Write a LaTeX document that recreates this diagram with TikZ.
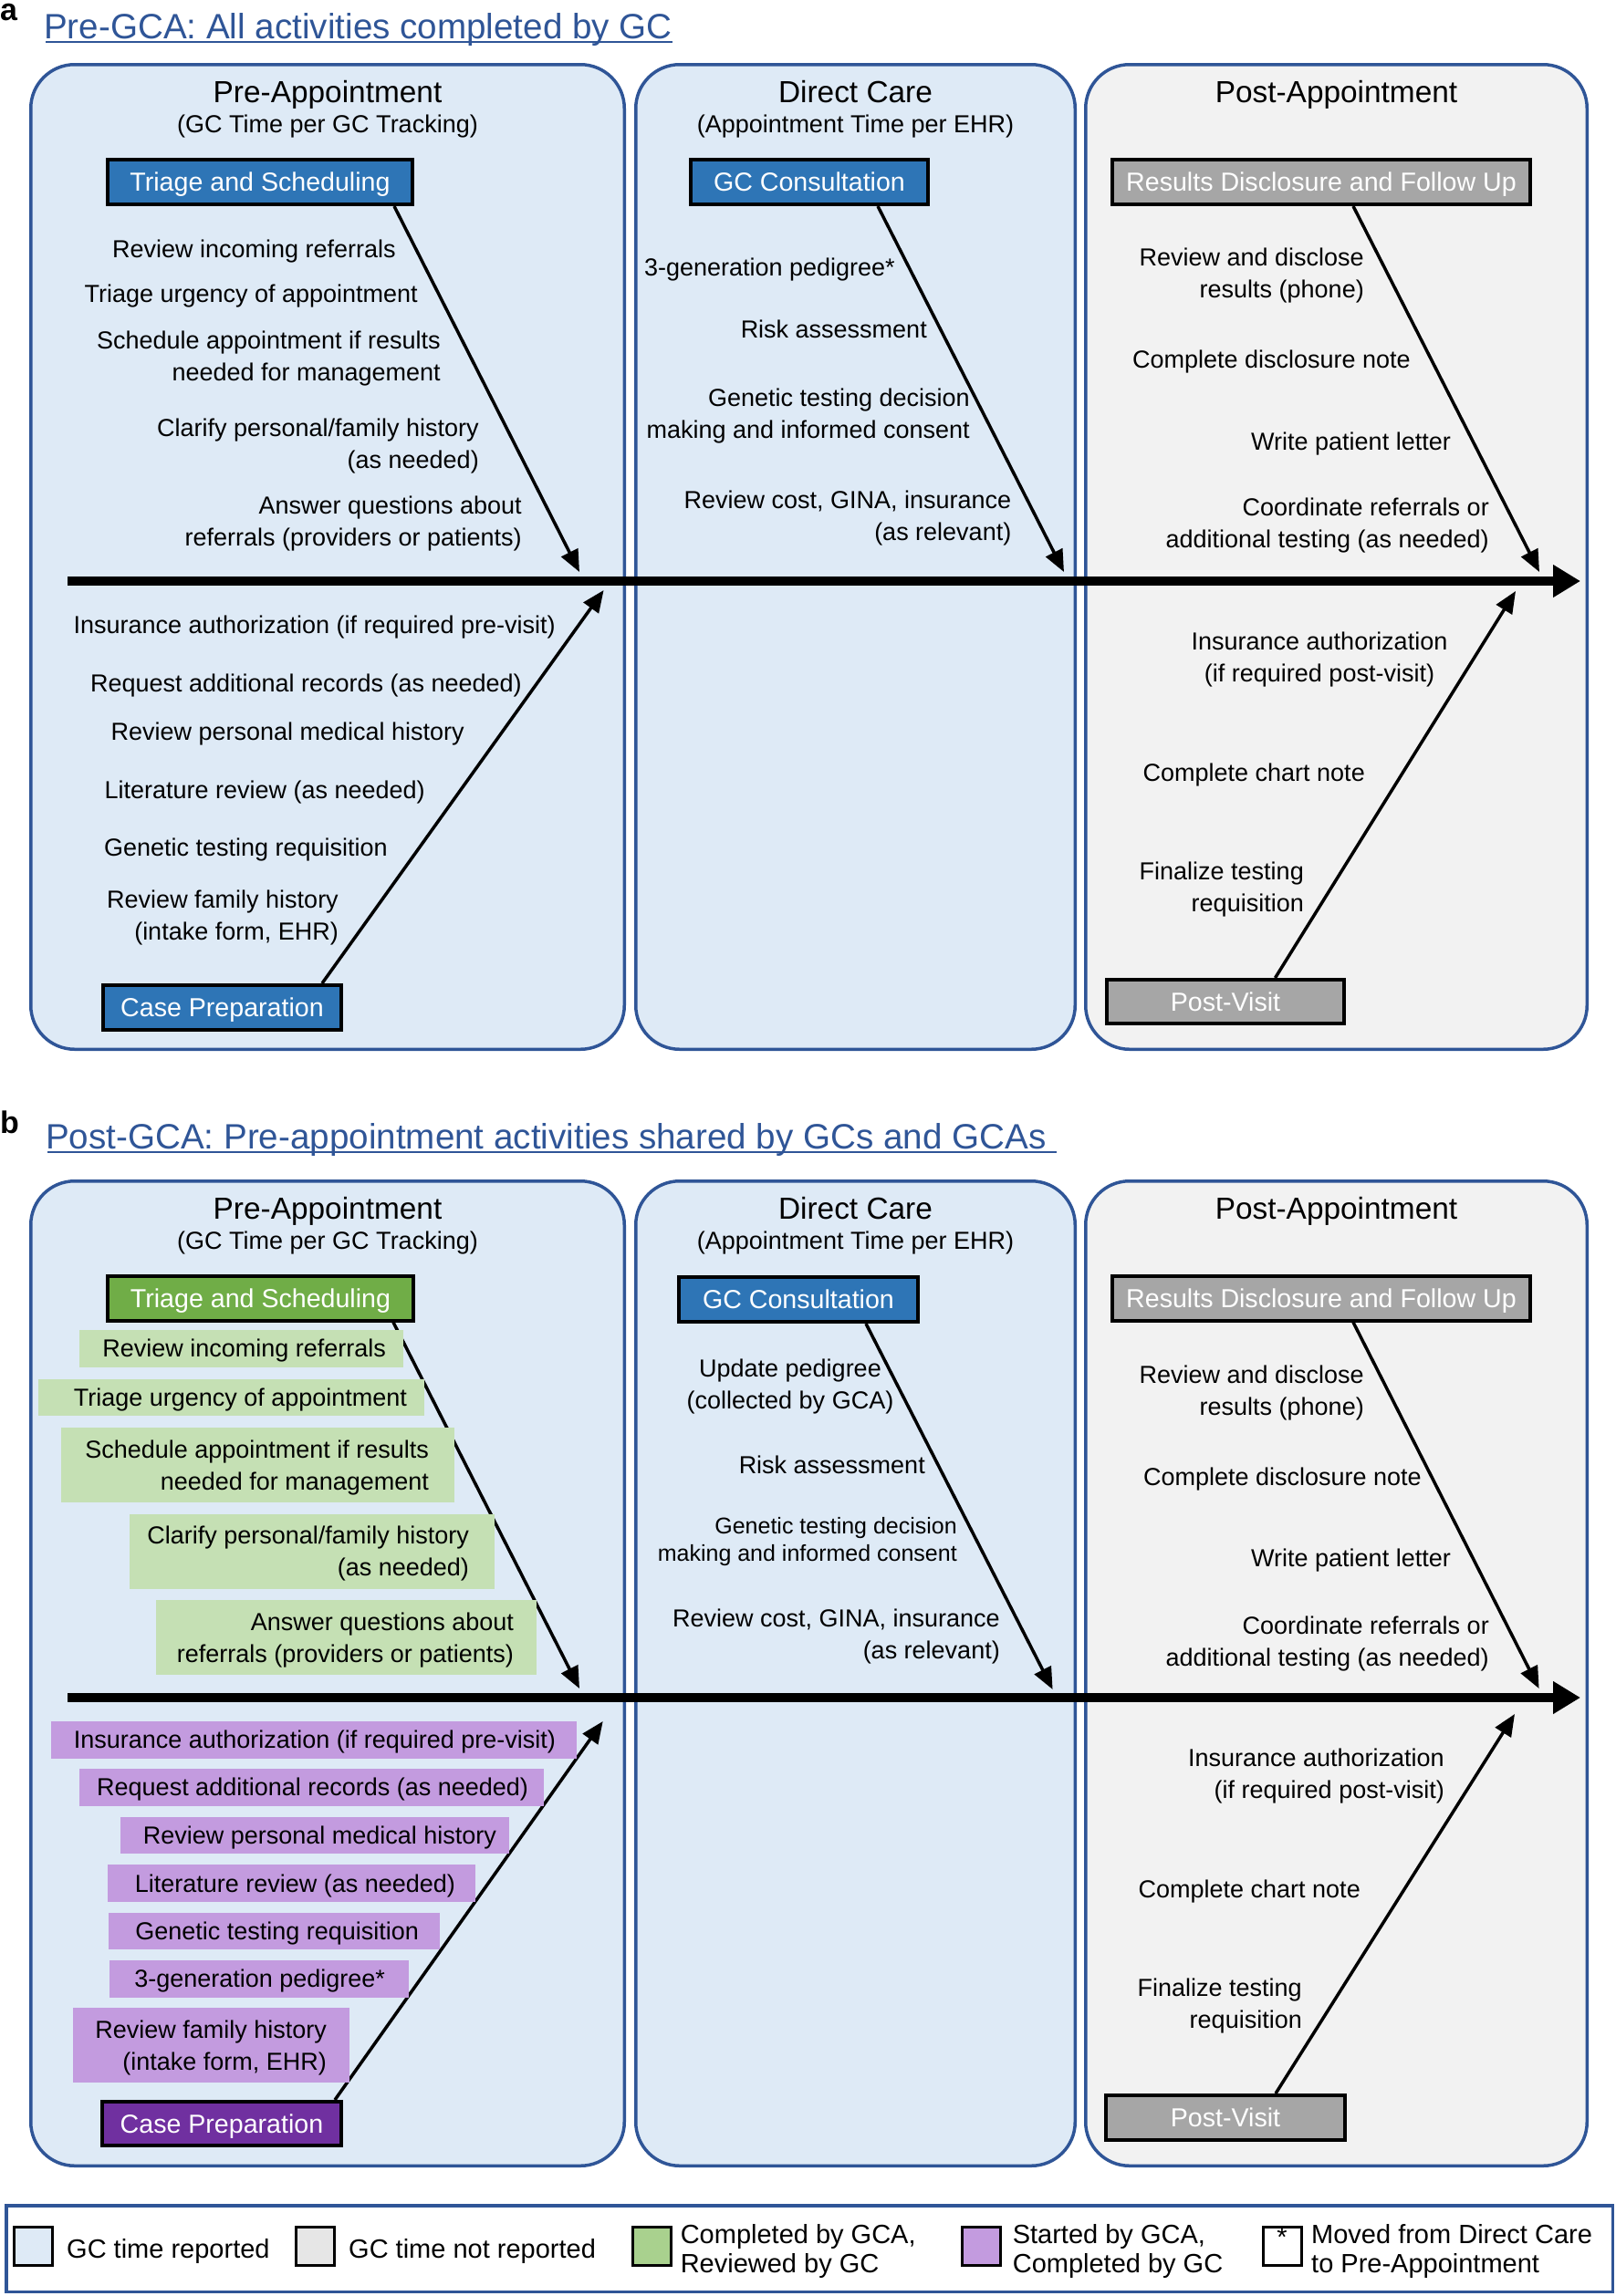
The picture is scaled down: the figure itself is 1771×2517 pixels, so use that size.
\documentclass[tikz,border=0pt]{standalone}
\usepackage{fontspec}
\setmainfont{Liberation Sans}
\usetikzlibrary{arrows.meta,calc}
\definecolor{pblue}{HTML}{DEEAF6}
\definecolor{pgray}{HTML}{F2F2F2}
\definecolor{pborder}{HTML}{2F5597}
\definecolor{tblue}{HTML}{2F5597}
\definecolor{catblue}{HTML}{2E75B6}
\definecolor{catgray}{HTML}{A6A6A6}
\definecolor{catgreen}{HTML}{70AD47}
\definecolor{catpurple}{HTML}{7030A0}
\definecolor{gitem}{HTML}{C5E0B4}
\definecolor{pitem}{HTML}{C39BDF}
\definecolor{lgreen}{HTML}{A9D18E}
\definecolor{lgray}{HTML}{E6E6E6}
\begin{document}
\begin{tikzpicture}[x=1pt,y=-1pt,
  panel/.style={draw=pborder, line width=3.5pt, rounded corners=48pt, inner sep=0pt},
  cat/.style={draw=black, line width=4pt, inner sep=0pt, minimum height=49pt, text=white, text height=20.5pt, text depth=0pt, font=\fontsize{28.6}{34}\selectfont},
  txt/.style={inner sep=0pt, align=right, yshift=-2.5pt, font=\fontsize{27}{35}\selectfont},
  hdr/.style={inner sep=0pt, anchor=base, font=\fontsize{33.4}{40}\selectfont},
  subhdr/.style={inner sep=0pt, anchor=base, font=\fontsize{27}{35}\selectfont},
  conn/.style={line width=3.5pt, -{Triangle[length=24pt,width=20pt]}},
  axis/.style={line width=10pt, -{Triangle[length=30pt,width=34pt]}},
  itembox/.style={inner sep=0pt, draw=none},
  lgd/.style={inner sep=0pt, align=left, anchor=west, font=\fontsize{29}{32}\selectfont},
  swatch/.style={draw=black, line width=3pt, minimum width=42pt, minimum height=42pt, inner sep=0pt},
  ttl/.style={inner sep=0pt, anchor=base west, text=tblue, font=\fontsize{38.6}{45}\selectfont},
  lbl/.style={inner sep=0pt, anchor=base west, font=\bfseries\fontsize{34}{40}\selectfont},
  ul/.style={draw=tblue, line width=2pt}
]
\path[fill=white] (0,0) rectangle (1771,2517);
\useasboundingbox (0,0) rectangle (1771,2517);

% ================= PANEL A =================
\node[lbl] (la) at (0,22) {a};
\node[ttl] (ta) at (48,42.5) {Pre-GCA: All activities completed by GC};
\draw[ul] ([xshift=2pt,yshift=-3pt]ta.base west) -- ([yshift=-3pt]ta.base east);

\node[panel, fill=pblue, minimum width=650.5pt, minimum height=1079.5pt] (A1) at (359,610.5) {};
\node[panel, fill=pblue, minimum width=481.5pt, minimum height=1079.5pt] (A2) at (937.5,610.5) {};
\node[panel, fill=pgray, minimum width=549.5pt, minimum height=1079.5pt] (A3) at (1464.5,610.5) {};

\node[hdr] (ha1) at (359,112.5) {Pre-Appointment};
\node[subhdr] (sa1) at (359,145) {(GC Time per GC Tracking)};
\node[hdr] (ha2) at (937.5,112.5) {Direct Care};
\node[subhdr] (sa2) at (937.5,145) {(Appointment Time per EHR)};
\node[hdr] (ha3) at (1464.5,112.5) {Post-Appointment};

\node[cat, fill=catblue, minimum width=334pt] (tri) at (285,199.5) {Triage and Scheduling};
\node[cat, fill=catblue, minimum width=260pt] (gcc) at (887,199.5) {GC Consultation};
\node[cat, fill=catgray, minimum width=458pt] (res) at (1448,199.5) {Results Disclosure and Follow Up};
\node[cat, fill=catblue, minimum width=261pt] (cp) at (243.5,1104.5) {Case Preparation};
\node[cat, fill=catgray, minimum width=260pt, minimum height=48pt] (pv) at (1343,1098) {Post-Visit};

\coordinate (a0) at (74,637);
\coordinate (a1) at (1732,637);
\draw[axis] (a0) -- (a1);

\coordinate (e1) at (635,627);
\coordinate (e2) at (1166,627);
\coordinate (e3) at (1687,627);
\coordinate (e4) at (661.6,647);
\coordinate (e5) at (1661,648);
\draw[conn] ([xshift=-22pt]tri.south east) -- (e1);
\draw[conn] ([xshift=-57pt]gcc.south east) -- (e2);
\draw[conn] ([xshift=-196pt]res.south east) -- (e3);
\draw[conn] ([xshift=-23pt]cp.north east) -- (e4);
\draw[conn] ([xshift=-77.5pt]pv.north east) -- (e5);

% texts box 1 (a)
\node[txt, anchor=east] (t1) at (434,273) {Review incoming referrals};
\node[txt, anchor=east] (t2) at (458,322) {Triage urgency of appointment};
\node[txt, anchor=east] (t3) at (483,390.5) {Schedule appointment if results\\needed for management};
\node[txt, anchor=east] (t4) at (525,486.5) {Clarify personal/family history\\(as needed)};
\node[txt, anchor=east] (t5) at (572,571.5) {Answer questions about\\referrals (providers or patients)};
\node[txt, anchor=east] (b1) at (609,685.5) {Insurance authorization (if required pre-visit)};
\node[txt, anchor=east] (b2) at (572,749) {Request additional records (as needed)};
\node[txt, anchor=east] (b3) at (509,802) {Review personal medical history};
\node[txt, anchor=east] (b4) at (466,866) {Literature review (as needed)};
\node[txt, anchor=east] (b5) at (425,929) {Genetic testing requisition};
\node[txt, anchor=east] (b6) at (371,1003.5) {Review family history\\(intake form, EHR)};

% texts box 2 (a)
\node[txt, anchor=east] (d1) at (981,293.5) {3-generation pedigree*};
\node[txt, anchor=east] (d2) at (1016,358) {Risk assessment};
\node[txt, anchor=east] (d3) at (1063,453.5) {Genetic testing decision\\making and informed consent};
\node[txt, anchor=east] (d4) at (1108.5,566) {Review cost, GINA, insurance\\(as relevant)};

% texts box 3 (a)
\node[txt, anchor=east] (r1) at (1495,300) {Review and disclose\\results (phone)};
\node[txt, anchor=east] (r2) at (1546,394) {Complete disclosure note};
\node[txt, anchor=east] (r3) at (1590,484) {Write patient letter};
\node[txt, anchor=east] (r4) at (1632,573.5) {Coordinate referrals or\\additional testing (as needed)};
\node[txt, align=center] (r5) at (1446,720.5) {Insurance authorization\\(if required post-visit)};
\node[txt, anchor=east] (r6) at (1496,847) {Complete chart note};
\node[txt, anchor=east] (r7) at (1429,973) {Finalize testing\\requisition};

% ================= PANEL B =================
\node[lbl] (lb) at (0,1242) {b};
\node[ttl] (tb) at (50,1259.5) {Post-GCA: Pre-appointment activities shared by GCs and GCAs};
\draw[ul] ([xshift=2pt,yshift=-3pt]tb.base west) -- ([xshift=11pt,yshift=-3pt]tb.base east);

\node[panel, fill=pblue, minimum width=650.5pt, minimum height=1079.5pt] (B1) at (359,1834.5) {};
\node[panel, fill=pblue, minimum width=481.5pt, minimum height=1079.5pt] (B2) at (937.5,1834.5) {};
\node[panel, fill=pgray, minimum width=549.5pt, minimum height=1079.5pt] (B3) at (1464.5,1834.5) {};

\node[hdr] (hb1) at (359,1336.5) {Pre-Appointment};
\node[subhdr] (sb1) at (359,1369) {(GC Time per GC Tracking)};
\node[hdr] (hb2) at (937.5,1336.5) {Direct Care};
\node[subhdr] (sb2) at (937.5,1369) {(Appointment Time per EHR)};
\node[hdr] (hb3) at (1464.5,1336.5) {Post-Appointment};

\node[cat, fill=catgreen, minimum width=335pt] (trib) at (285.5,1423) {Triage and Scheduling};
\node[cat, fill=catblue, minimum width=262pt] (gccb) at (875,1424.5) {GC Consultation};
\node[cat, fill=catgray, minimum width=458pt] (resb) at (1448,1423) {Results Disclosure and Follow Up};
\node[cat, fill=catpurple, minimum width=262pt, minimum height=48pt] (cpb) at (243,2328) {Case Preparation};
\node[cat, fill=catgray, minimum width=262pt] (pvb) at (1343,2321.5) {Post-Visit};

\coordinate (b0) at (74,1861);
\coordinate (b9) at (1732,1861);
\draw[axis] (b0) -- (b9);

\coordinate (f1) at (635,1851);
\coordinate (f2) at (1153.6,1852);
\coordinate (f3) at (1686.6,1851);
\coordinate (f4) at (660.7,1887);
\coordinate (f5) at (1660,1879);
\draw[conn] ([xshift=-24pt]trib.south east) -- (f1);
\draw[conn] ([xshift=-59pt]gccb.south east) -- (f2);
\draw[conn] ([xshift=-196pt]resb.south east) -- (f3);
\draw[conn] ([xshift=-9pt]cpb.north east) -- (f4);
\draw[conn] ([xshift=-78pt]pvb.north east) -- (f5);

% green items
\node[itembox, fill=gitem, minimum width=355pt, minimum height=40.5pt] (g1) at (264.5,1478.25) {};
\node[txt, anchor=east] (g1t) at ([xshift=-19pt]g1.east) {Review incoming referrals};
\node[itembox, fill=gitem, minimum width=423pt, minimum height=40pt] (g2) at (253.5,1532) {};
\node[txt, anchor=east] (g2t) at ([xshift=-19pt]g2.east) {Triage urgency of appointment};
\node[itembox, fill=gitem, minimum width=431pt, minimum height=82pt] (g3) at (282.5,1606) {};
\node[txt, anchor=east] (g3t) at ([xshift=-28pt]g3.east) {Schedule appointment if results\\needed for management};
\node[itembox, fill=gitem, minimum width=400.5pt, minimum height=81.5pt] (g4) at (341.75,1700.75) {};
\node[txt, anchor=east] (g4t) at ([xshift=-28pt]g4.east) {Clarify personal/family history\\(as needed)};
\node[itembox, fill=gitem, minimum width=416.5pt, minimum height=82pt] (g5) at (379.25,1795) {};
\node[txt, anchor=east] (g5t) at ([xshift=-24.5pt]g5.east) {Answer questions about\\referrals (providers or patients)};

% purple items
\node[itembox, fill=pitem, minimum width=576pt, minimum height=40.5pt] (p1) at (344,1907.25) {};
\node[txt, anchor=east] (p1t) at ([xshift=-23pt]p1.east) {Insurance authorization (if required pre-visit)};
\node[itembox, fill=pitem, minimum width=509pt, minimum height=40.5pt] (p2) at (341.5,1959.25) {};
\node[txt, anchor=east] (p2t) at ([xshift=-17pt]p2.east) {Request additional records (as needed)};
\node[itembox, fill=pitem, minimum width=426pt, minimum height=40pt] (p3) at (345,2012) {};
\node[txt, anchor=east] (p3t) at ([xshift=-14pt]p3.east) {Review personal medical history};
\node[itembox, fill=pitem, minimum width=403pt, minimum height=41pt] (p4) at (319.5,2064.5) {};
\node[txt, anchor=east] (p4t) at ([xshift=-22pt]p4.east) {Literature review (as needed)};
\node[itembox, fill=pitem, minimum width=363pt, minimum height=40.4pt] (p5) at (300.5,2116.8) {};
\node[txt, anchor=east] (p5t) at ([xshift=-23pt]p5.east) {Genetic testing requisition};
\node[itembox, fill=pitem, minimum width=328pt, minimum height=40.6pt] (p6) at (284,2169.3) {};
\node[txt, anchor=east] (p6t) at ([xshift=-26pt]p6.east) {3-generation pedigree*};
\node[itembox, fill=pitem, minimum width=303pt, minimum height=82pt] (p7) at (231,2242) {};
\node[txt, anchor=east] (p7t) at ([xshift=-24.6pt]p7.east) {Review family history\\(intake form, EHR)};

% texts box 2 (b)
\node[txt, align=center] (d1b) at (866,1517) {Update pedigree\\(collected by GCA)};
\node[txt, anchor=east] (d2b) at (1014,1603) {Risk assessment};
\node[txt, anchor=east, font=\fontsize{25}{30}\selectfont] (d3b) at (1049,1688) {Genetic testing decision\\making and informed consent};
\node[txt, anchor=east] (d4b) at (1096,1791) {Review cost, GINA, insurance\\(as relevant)};

% texts box 3 (b)
\node[txt, anchor=east] (r1b) at (1495,1524) {Review and disclose\\results (phone)};
\node[txt, anchor=east] (r2b) at (1558,1618.6) {Complete disclosure note};
\node[txt, anchor=east] (r3b) at (1590,1708) {Write patient letter};
\node[txt, anchor=east] (r4b) at (1632,1799) {Coordinate referrals or\\additional testing (as needed)};
\node[txt, anchor=east] (r5b) at (1583,1944.7) {Insurance authorization\\(if required post-visit)};
\node[txt, anchor=east] (r6b) at (1491,2071) {Complete chart note};
\node[txt, anchor=east] (r7b) at (1427,2196.5) {Finalize testing\\requisition};

% ================= LEGEND =================
\node[draw=pborder, line width=3.5pt, minimum width=1760.5pt, minimum height=94.5pt, inner sep=0pt] (L) at (887,2465) {};
\node[swatch, fill=pblue] (sw1) at (36,2462) {};
\node[lgd] (l1) at (73,2468) {GC time reported};
\node[swatch, fill=lgray] (sw2) at (345.5,2462) {};
\node[lgd] (l2) at (382,2468) {GC time not reported};
\node[swatch, fill=lgreen] (sw3) at (714,2462) {};
\node[lgd] (l3) at (745.6,2467.5) {Completed by GCA,\\Reviewed by GC};
\node[swatch, fill=pitem] (sw4) at (1075.5,2462) {};
\node[lgd] (l4) at (1109.6,2467.5) {Started by GCA,\\Completed by GC};
\node[swatch, fill=white] (sw5) at (1405,2462) {};
\node[inner sep=0pt, anchor=north, font=\fontsize{29}{29}\selectfont] (star) at ([yshift=-3pt]sw5.north) {*};
\node[lgd] (l5) at (1437,2467.5) {Moved from Direct Care\\to Pre-Appointment};
\end{tikzpicture}
\end{document}
